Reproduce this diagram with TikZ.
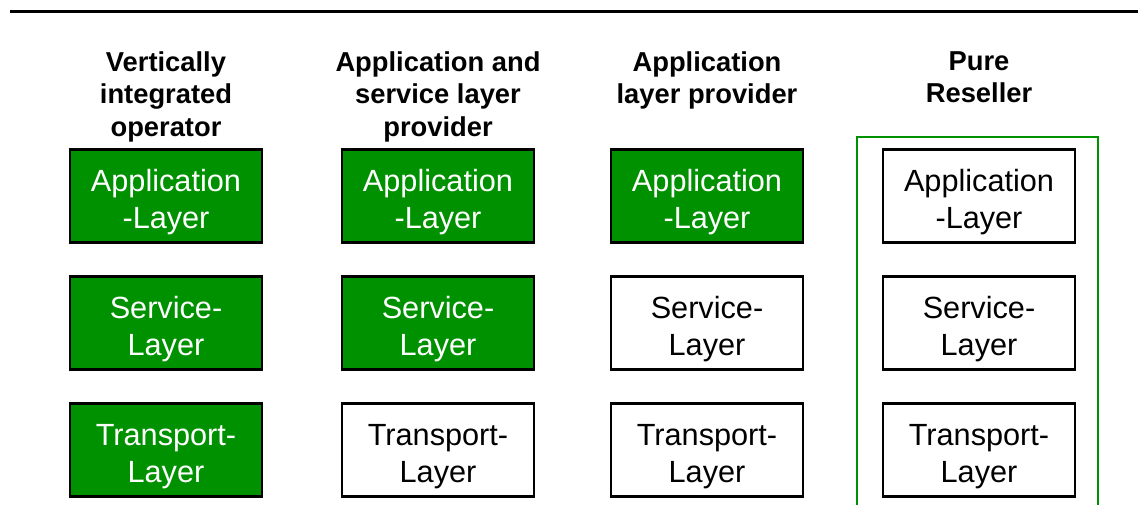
\documentclass[tikz,border=0pt]{standalone}
\usepackage{fontspec}
\setmainfont{Liberation Sans}
\usetikzlibrary{positioning}
\definecolor{layergreen}{RGB}{0,145,0}

\tikzset{
  layer/.style={draw=black, line width=2pt, minimum width=144pt, minimum height=70pt,
    inner sep=0pt, align=center, text height=48.5pt, text depth=0pt,
    font=\fontsize{23}{27.5}\selectfont},
  layeron/.style={layer, fill=layergreen, text=white},
  layeroff/.style={layer, fill=white},
  colhead/.style={anchor=north, inner sep=0pt, align=center,
    font=\bfseries\fontsize{20.5}{24.5}\selectfont}
}

\begin{document}
\begin{tikzpicture}[x=0.75pt,y=-0.75pt]
\useasboundingbox (0,0) rectangle (1138,505);
% rule on top
\draw[line width=2.25pt] (10,12) -- (1138,12);

% column heads
\node[colhead] (head1) at (166,51) {Vertically\\integrated\\operator};
\node[colhead] (head2) at (438,51) {Application and\\service layer\\provider};
\node[colhead] (head3) at (707,51) {Application\\layer provider};
\node[colhead] (head4) at (979,51) {Pure\\Reseller};

% three layers per column
\foreach \col/\x/\appst/\srvst/\trnst in {1/166/layeron/layeron/layeron,
    2/438/layeron/layeron/layeroff, 3/707/layeron/layeroff/layeroff,
    4/979/layeroff/layeroff/layeroff} {
  \node[\appst] (app\col) at (\x,196) {Application\\-Layer};
  \node[\srvst] (srv\col) at (\x,323) {Service-\\Layer};
  \node[\trnst] (trn\col) at (\x,450) {Transport-\\Layer};
}

% reseller frame, open at the bottom
\draw[layergreen, line width=1.6pt] (857,505) -- (857,137) -- (1098,137) -- (1098,505);
\end{tikzpicture}
\end{document}
